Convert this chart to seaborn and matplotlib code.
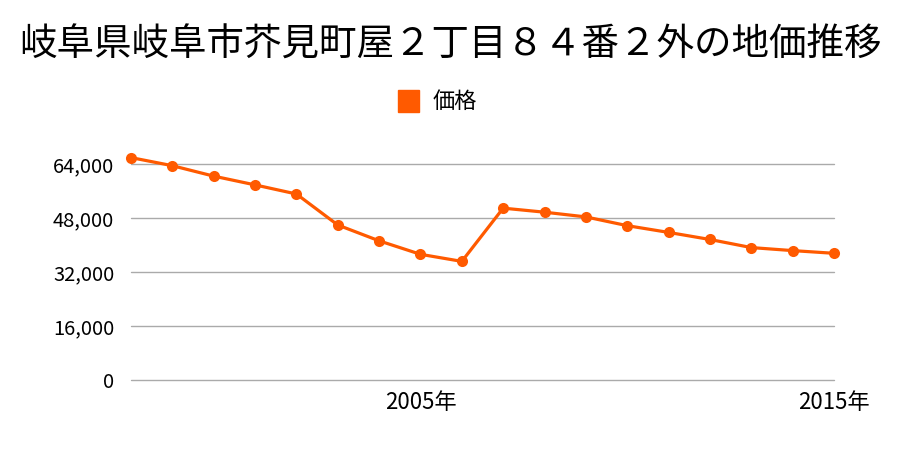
import matplotlib
matplotlib.use("Agg")
import matplotlib.pyplot as plt
import seaborn as sns
import pandas as pd
from matplotlib.patches import Rectangle

years = list(range(1998, 2016))
prices = [66000, 63600, 60500, 57900, 55200, 46000, 41300, 37300, 35200,
          51000, 49800, 48400, 45800, 43800, 41700, 39300, 38400, 37600]
series_name = "価格"
title = "岐阜県岐阜市芥見町屋２丁目８４番２外の地価推移"
y_ticks = [0, 16000, 32000, 48000, 64000]
x_ticks = [2005, 2015]

sns.set_theme(style="white")
plt.rcParams['font.family'] = ['Noto Sans CJK JP', 'DejaVu Sans']

df = pd.DataFrame({"year": years, "price": prices, "series": series_name})

fig = plt.figure(figsize=(9, 4.5), dpi=100)
ax = fig.add_axes([131/900, 1-380/450, (834-131)/900, 222.4/450])

color = "#FF5A00"
sns.lineplot(data=df, x="year", y="price", hue="series", palette=[color],
             marker="o", markersize=8, markeredgewidth=0, linewidth=2.3,
             ax=ax, legend=False, clip_on=False, zorder=3)

ax.set_xlim(1998, 2015)
ax.set_ylim(0, 66000)
ax.set_yticks(y_ticks)
ax.set_yticklabels([f"{v:,}" for v in y_ticks], fontsize=14.5)
ax.set_xticks(x_ticks)
ax.set_xticklabels([f"{y}年" for y in x_ticks], fontsize=16)
ax.tick_params(axis='both', length=0, colors="#000000")
ax.tick_params(axis='y', pad=12)
ax.tick_params(axis='x', pad=8)
ax.grid(axis='y', color="#aaaaaa", linewidth=1)
for gl in ax.get_ygridlines():
    gl.set_clip_on(False)
for s in ax.spines.values():
    s.set_visible(False)
ax.set_xlabel("")
ax.set_ylabel("")

fig.text(0.5, 1-45/450, title, ha="center", va="center", fontsize=27, color="#000000")

fig.patches.append(Rectangle((398/900, 1-112/450), 21/900, 22/450,
                             transform=fig.transFigure, color=color, figure=fig))
fig.text(433/900, 1-101/450, series_name, ha="left", va="center", fontsize=16, color="#000000")

fig.savefig("out.png", dpi=100)
